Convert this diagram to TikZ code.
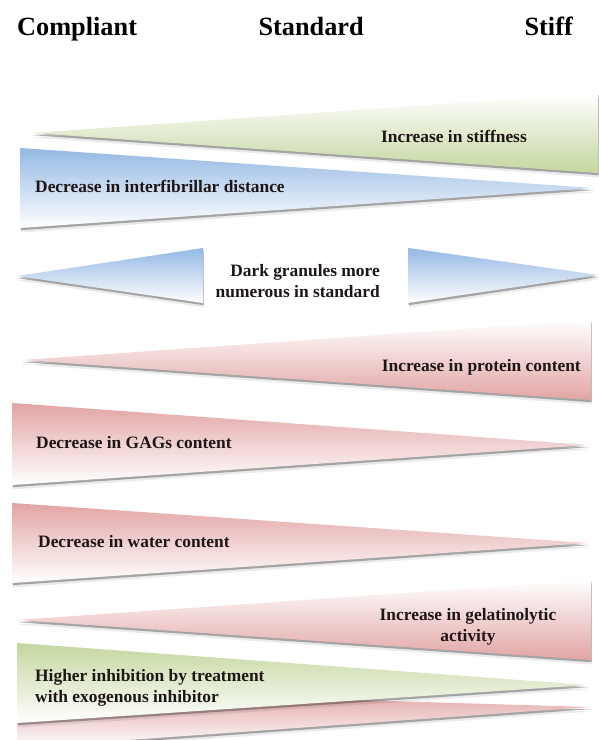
\documentclass[tikz,border=0pt]{standalone}
\usepackage{fontspec}
\setmainfont{Liberation Serif}
\definecolor{greenC}{RGB}{196,214,158}
\definecolor{blueC}{RGB}{148,184,228}
\definecolor{pinkC}{RGB}{226,164,164}
\definecolor{txtC}{RGB}{30,22,22}
\tikzset{
 shadowA/.style={fill=black, opacity=0.30},
 shadowB/.style={fill=black, opacity=0.08},
 incr/.style={top color=white, bottom color=#1},
 decr/.style={top color=#1, bottom color=white},
 head/.style={font=\fontsize{26.3}{30}\selectfont\bfseries, inner sep=0pt, text=black},
 lbl/.style={font=\fontsize{17.4}{21}\selectfont\bfseries, inner sep=0pt, text=txtC},
}
\newcommand{\wedgetri}[4]{%
  \fill[shadowB, shift={(0.8,4.5)}] #2 -- #3 -- #4 -- cycle;
  \fill[shadowA, shift={(0.5,2.2)}] #2 -- #3 -- #4 -- cycle;
  \path[#1] #2 -- #3 -- #4 -- cycle;
}
\begin{document}
\begin{tikzpicture}[x=1pt,y=-1pt]
\fill[white] (0,0) rectangle (598,740);
\useasboundingbox (0,0) rectangle (598,740);
% headers
\node[head, anchor=base west] (hc) at (17,35) {Compliant};
\node[head, anchor=base east] (hs) at (364,35) {Standard};
\node[head, anchor=base east] (hf) at (573,35) {Stiff};
% wedges
\wedgetri{incr=greenC}{(32,133)}{(598,93)}{(598,173)}
\wedgetri{decr=blueC}{(20,148)}{(593,188)}{(20,228)}
\wedgetri{decr=blueC}{(17,276)}{(203,248)}{(203,303)}
\wedgetri{decr=blueC}{(408,248)}{(598,275)}{(408,303)}
\wedgetri{incr=pinkC}{(22,360)}{(591,320)}{(591,400)}
\wedgetri{decr=pinkC}{(12,403)}{(588,445)}{(12,485)}
\wedgetri{decr=pinkC}{(12,503)}{(588,543)}{(12,583)}
\wedgetri{incr=pinkC}{(17,620)}{(591,580)}{(591,660)}
\wedgetri{decr=pinkC}{(17,690)}{(590,707)}{(17,748)}
\wedgetri{decr=greenC}{(17,643)}{(588,685)}{(17,723)}
% labels
\node[lbl, anchor=base east] (l1) at (527,142) {Increase in stiffness};
\node[lbl, anchor=base west] (l2) at (35,192) {Decrease in interfibrillar distance};
\node[lbl, align=right, anchor=east] (l3) at (380,281) {Dark granules more\\numerous in standard};
\node[lbl, anchor=base east] (l4) at (581,371) {Increase in protein content};
\node[lbl, anchor=base west] (l5) at (36,448) {Decrease in GAGs content};
\node[lbl, anchor=base west] (l6) at (38,547) {Decrease in water content};
\node[lbl, align=center] (l7) at (468,627) {Increase in gelatinolytic\\activity};
\node[lbl, align=left, anchor=west] (l8) at (35,688) {Higher inhibition by treatment\\with exogenous inhibitor};
\end{tikzpicture}
\end{document}
